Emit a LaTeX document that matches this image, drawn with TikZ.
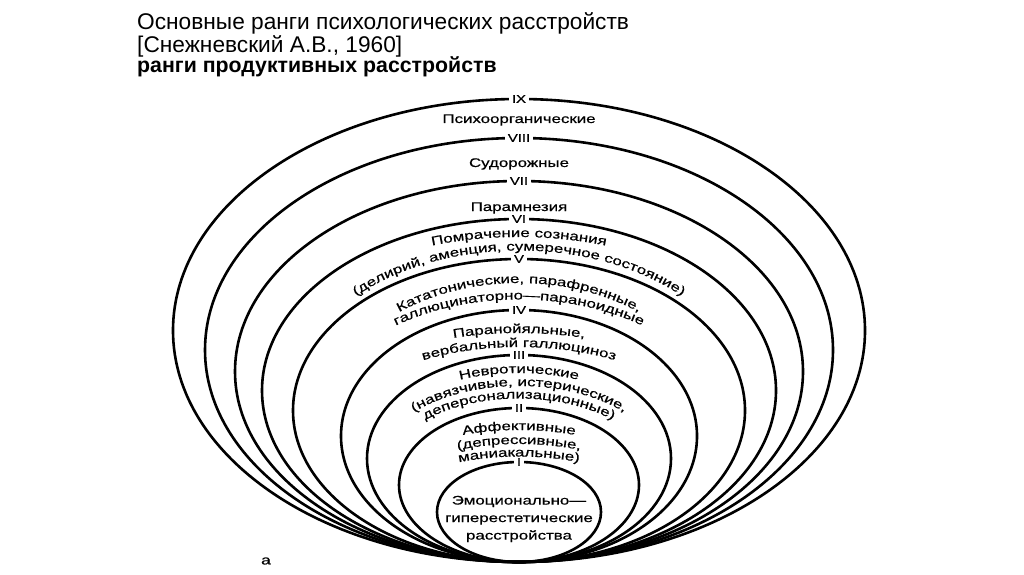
\documentclass[tikz,border=0pt]{standalone}
\usepackage{fontspec}
\setmainfont{Liberation Sans}
\newfontfamily\ringfont[FakeStretch=1.35,FakeBold=0.6]{Liberation Sans}
\usetikzlibrary{decorations.text}
\tikzset{
  ring/.style={line width=2.6pt},
  rank/.style={fill=white, inner xsep=3pt, inner ysep=0.3pt, font=\ringfont\fontsize{11}{12}\selectfont},
  ringtext/.style={font=\ringfont\fontsize{12.5}{17.5}\selectfont, align=center},
  arclabel/.style={decorate, decoration={text along path, text align=center,
    text={|\ringfont\fontsize{12.5}{14}\selectfont|#1}}}
}
\begin{document}
\begin{tikzpicture}[x=1pt,y=1pt]
\useasboundingbox (0,0) rectangle (1024,574);
% Titel
\node[anchor=base west, inner sep=0pt, font=\fontsize{22.7}{26}\selectfont] (title) at (137,544) {Основные ранги психологических расстройств};
\node[anchor=base west, inner sep=0pt, font=\fontsize{22.7}{26}\selectfont] (source) at (137,521.5) {[Снежневский А.В., 1960]};
\node[anchor=base west, inner sep=0pt, font=\bfseries\fontsize{21.3}{24}\selectfont] (subtitle) at (137,501.5) {ранги продуктивных расстройств};
% Ellipsen mit Rangnummern
\foreach \a/\b/\num in {346/231.5/IX, 314/212/VIII, 284/190.5/VII, 257/171.5/VI, 226/151.5/V, 178/126/IV, 152/103.5/III, 120/77/II, 82/50/I}{
  \draw[ring] (519,12+\b) ellipse[x radius=\a, y radius=\b];
  \node[rank] (r\num) at (519,12+2*\b) {\num};
}
\node[ringtext, anchor=base] (psycho) at (519,451) {Психоорганические};
\node[ringtext, anchor=base] (seizure) at (519,407) {Судорожные};
\node[ringtext, anchor=base] (paramn) at (519,363) {Парамнезия};
% gebogene Beschriftungen
\path[arclabel={Помрачение сознания}] (519,187) ++(170:260 and 150) arc[start angle=170, end angle=10, x radius=260, y radius=150];
\path[arclabel={(делирий, аменция, сумеречное состояние)}] (519,172) ++(170:228 and 151.5) arc[start angle=170, end angle=10, x radius=228, y radius=151.5];
\path[arclabel={Кататонические, парафренные,}] (519,151) ++(170:196 and 140) arc[start angle=170, end angle=10, x radius=196, y radius=140];
\path[arclabel={галлюцинаторно—параноидные}] (519,144.5) ++(170:205 and 130) arc[start angle=170, end angle=10, x radius=205, y radius=130];
\path[arclabel={Паранойяльные,}] (519,131) ++(170:220 and 110) arc[start angle=170, end angle=10, x radius=220, y radius=110];
\path[arclabel={вербальный галлюциноз}] (519,122) ++(170:197 and 105) arc[start angle=170, end angle=10, x radius=197, y radius=105];
\path[arclabel={Невротические}] (519,111) ++(170:155 and 90) arc[start angle=170, end angle=10, x radius=155, y radius=90];
\path[arclabel={(навязчивые, истерические,}] (519,108) ++(170:142 and 80) arc[start angle=170, end angle=10, x radius=142, y radius=80];
\path[arclabel={деперсонализационные)}] (519,97.5) ++(170:136 and 78) arc[start angle=170, end angle=10, x radius=136, y radius=78];
\path[arclabel={Аффективные}] (519,84) ++(170:140 and 60) arc[start angle=170, end angle=10, x radius=140, y radius=60];
\path[arclabel={(депрессивные,}] (519,70) ++(170:140 and 60) arc[start angle=170, end angle=10, x radius=140, y radius=60];
\path[arclabel={маниакальные)}] (519,57.5) ++(170:140 and 60) arc[start angle=170, end angle=10, x radius=140, y radius=60];
\node[ringtext] (emot) at (519,55) {Эмоционально—\\гиперестетические\\расстройства};
\node[font=\ringfont\fontsize{13}{14}\selectfont] (fig) at (266,13) {а};
\end{tikzpicture}
\end{document}
